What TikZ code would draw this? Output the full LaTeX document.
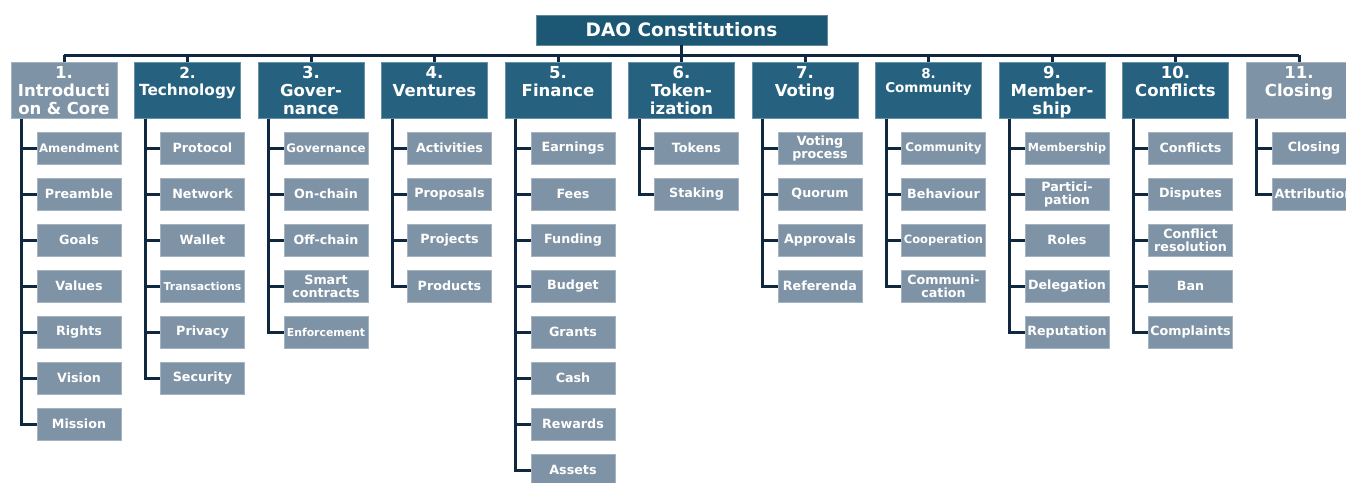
\documentclass[tikz,border=0pt]{standalone}
\usepackage{fontspec}
\setmainfont{DejaVu Sans}
\usetikzlibrary{positioning}

\definecolor{navyline}{HTML}{10283F}
\definecolor{rootblue}{HTML}{1C5774}
\definecolor{headblue}{HTML}{26627F}
\definecolor{slate}{HTML}{7F93A6}

\tikzset{
  rootbox/.style={rectangle, fill=rootblue, draw=rootblue!70!white, line width=0.8pt,
    minimum width=291pt, minimum height=30pt, inner sep=0pt, text=white,
    font=\bfseries\fontsize{18.5}{20}\selectfont},
  headbox/.style={rectangle, fill=#1, draw=#1!70!white, line width=0.8pt,
    text width=106pt, align=center, inner sep=0pt, text height=16pt, text depth=40pt,
    text=white},
  leafbox/.style={rectangle, fill=slate, draw=slate!70!white, line width=0.8pt,
    minimum width=84pt, minimum height=32pt, inner sep=0pt, align=center, text=white},
  wire/.style={draw=navyline, line width=3pt},
}

\begin{document}
\begin{tikzpicture}[x=1pt, y=-1pt]
  \clip (0,0) rectangle (1346,482);
  % root and the bus under it
  \node[rootbox] (root) at (681.5,30) {DAO Constitutions};
  \coordinate (busL) at (64,55);
  \coordinate (busR) at (1299,55);
  \draw[wire] (busL) -- (busR);
  \draw[wire] (root) -- (root |- busL);
  % sections: number/colour/font size/skip/title/leaves
  \foreach \i/\col/\fs/\sk/\ttl/\kids in {%
    1/slate/16.5/18/{1.\\Introducti\\on \& Core}/{11.7/Amendment,12.7/Preamble,12.7/Goals,12.7/Values,12.7/Rights,12.7/Vision,12.7/Mission},%
    2/headblue/15.3/17/{2.\\Technology}/{12.7/Protocol,12.7/Network,12.7/Wallet,10.9/Transactions,12.7/Privacy,12.7/Security},%
    3/headblue/16.5/18/{3.\\Gover-\\nance}/{11.8/Governance,12.7/On-chain,12.7/Off-chain,12.7/{Smart\\contracts},10.9/Enforcement},%
    4/headblue/16.5/18/{4.\\Ventures}/{12.7/Activities,12.7/Proposals,12.7/Projects,12.7/Products},%
    5/headblue/16.5/18/{5.\\Finance}/{12.7/Earnings,12.7/Fees,12.7/Funding,12.7/Budget,12.7/Grants,12.7/Cash,12.7/Rewards,12.7/Assets},%
    6/headblue/16.5/18/{6.\\Token-\\ization}/{12.7/Tokens,12.7/Staking},%
    7/headblue/16.5/18/{7.\\Voting}/{12.7/{Voting\\process},12.7/Quorum,12.7/Approvals,12.7/Referenda},%
    8/headblue/13.5/14/{8.\\Community}/{11.9/Community,12.7/Behaviour,11.5/Cooperation,12.7/{Communi-\\cation}},%
    9/headblue/16.5/18/{9.\\Member-\\ship}/{11.2/Membership,12.7/{Partici-\\pation},12.7/Roles,12.7/Delegation,12.7/Reputation},%
    10/headblue/16.5/18/{10.\\Conflicts}/{12.7/Conflicts,12.7/Disputes,12.7/{Conflict\\resolution},12.7/Ban,12.7/Complaints},%
    11/slate/16.5/18/{11.\\Closing}/{12.7/Closing,12.7/Attribution}%
  }{
    \pgfmathsetmacro\cx{64+123.5*(\i-1)}
    \node[headbox=\col, font=\bfseries\fontsize{\fs}{\sk}\selectfont, anchor=north] (c\i) at (\cx,62) {\ttl};
    \draw[wire] (c\i) -- (c\i |- busL);
    \coordinate (s\i) at ([xshift=11pt]c\i.south west);
    \foreach \ks/\ktxt [count=\j] in \kids {
      \pgfmathsetmacro\ky{148+46*(\j-1)}
      \node[leafbox, font=\bfseries\fontsize{\ks}{13}\selectfont] (k\i-\j) at (\cx+15,\ky) {\ktxt};
      \draw[wire] (s\i) |- (k\i-\j);
    }
  }
\end{tikzpicture}
\end{document}
